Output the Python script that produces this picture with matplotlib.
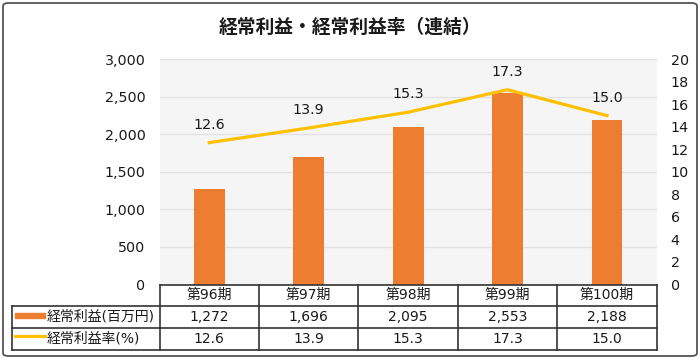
import matplotlib
matplotlib.use("Agg")
import matplotlib.pyplot as plt
from matplotlib.lines import Line2D
from matplotlib.patches import FancyBboxPatch, Rectangle
import matplotlib.transforms as mtransforms

plt.rcParams['font.family'] = ['DejaVu Sans', 'Noto Sans CJK JP']

title = "経常利益・経常利益率（連結）"
categories = ["第96期", "第97期", "第98期", "第99期", "第100期"]
profit = [1272, 1696, 2095, 2553, 2188]
rate = [12.6, 13.9, 15.3, 17.3, 15.0]
profit_labels = ["1,272", "1,696", "2,095", "2,553", "2,188"]
rate_labels = ["12.6", "13.9", "15.3", "17.3", "15.0"]
series_names = ["経常利益(百万円)", "経常利益率(%)"]
left_ticks = [0, 500, 1000, 1500, 2000, 2500, 3000]
right_ticks = [0, 2, 4, 6, 8, 10, 12, 14, 16, 18, 20]

BAR = "#ED7D31"
LINE = "#FFC000"
TXT = "#1a1a1a"
W, H = 700, 359
fig = plt.figure(figsize=(7, 3.59), dpi=100)

def fx(px):
    return px / W

def fy(py):
    return 1 - py / H

# outer rounded border
fig.patches.append(FancyBboxPatch((fx(3), fy(356)), fx(694), 353 / H,
                                  boxstyle="round,pad=0,rounding_size=0.008",
                                  transform=fig.transFigure, fill=False,
                                  edgecolor="#555555", linewidth=1.3))

x0, x1, ytop, ybot = 159.5, 656.7, 59.3, 284.5
ax = fig.add_axes([fx(x0), fy(ybot), fx(x1 - x0), (ybot - ytop) / H])
ax.set_facecolor("#f5f5f5")
xs = list(range(len(categories)))
ax.bar(xs, profit, width=0.31, color=BAR, zorder=3)
ax.set_xlim(-0.5, len(categories) - 0.5)
ax.set_ylim(0, 3000)
ax.set_yticks(left_ticks)
ax.set_yticklabels([f"{v:,}" for v in left_ticks])
ax.yaxis.grid(True, color="#e2e2e2", linewidth=1, zorder=0)
ax.set_axisbelow(True)
ax.set_xticks([])
for s in ax.spines.values():
    s.set_visible(False)
ax.tick_params(axis='y', length=0, pad=10, labelsize=10.3, colors=TXT)

ax2 = ax.twinx()
ax2.plot(xs, rate, color=LINE, linewidth=2.3, zorder=4)
ax2.set_ylim(0, 20)
ax2.set_yticks(right_ticks)
for s in ax2.spines.values():
    s.set_visible(False)
ax2.tick_params(axis='y', length=0, pad=10, labelsize=10.3, colors=TXT)
for x, v, lab in zip(xs, rate, rate_labels):
    ax2.annotate(lab, (x, v), xytext=(0, 13), textcoords="offset points",
                 ha="center", va="center", fontsize=10.3, color=TXT)

fig.text(0.5, fy(27), title, ha="center", va="center", fontsize=13.5,
         fontweight="bold", color=TXT, family="Noto Sans CJK JP")

# data table
tr = mtransforms.blended_transform_factory(ax.transData, fig.transFigure)
rows_y = [284.5, 306, 327.7, 350]
lc = "#333333"
lw = 1.2
n = len(categories)
fig.add_artist(Line2D([fx(x0), fx(x1)], [fy(rows_y[0])] * 2, color=lc, lw=lw))
for yy in rows_y[1:]:
    fig.add_artist(Line2D([fx(12), fx(x1)], [fy(yy)] * 2, color=lc, lw=lw))
for i in range(n + 1):
    xv = i - 0.5
    fig.add_artist(Line2D([xv, xv], [fy(rows_y[0]), fy(rows_y[3])],
                          color=lc, lw=lw, transform=tr))
fig.add_artist(Line2D([fx(12), fx(12)], [fy(rows_y[1]), fy(rows_y[3])], color=lc, lw=lw))

def mid(a, b):
    return fy((rows_y[a] + rows_y[b]) / 2)

for x, c, p, r in zip(xs, categories, profit_labels, rate_labels):
    fig.text(x, mid(0, 1), c, transform=tr, ha="center", va="center", fontsize=10, color=TXT)
    fig.text(x, mid(1, 2), p, transform=tr, ha="center", va="center", fontsize=10, color=TXT)
    fig.text(x, mid(2, 3), r, transform=tr, ha="center", va="center", fontsize=10, color=TXT)

# legend keys
fig.add_artist(Rectangle((fx(15), fy(318)), fx(30), 5.5 / H, color=BAR,
                         transform=fig.transFigure))
fig.add_artist(Line2D([fx(15), fx(45)], [fy(336)] * 2, color=LINE, lw=2.3))
fig.text(fx(47), mid(1, 2), series_names[0], ha="left", va="center", fontsize=10, color=TXT)
fig.text(fx(47), mid(2, 3), series_names[1], ha="left", va="center", fontsize=10, color=TXT)

fig.savefig("out.png", dpi=100)
